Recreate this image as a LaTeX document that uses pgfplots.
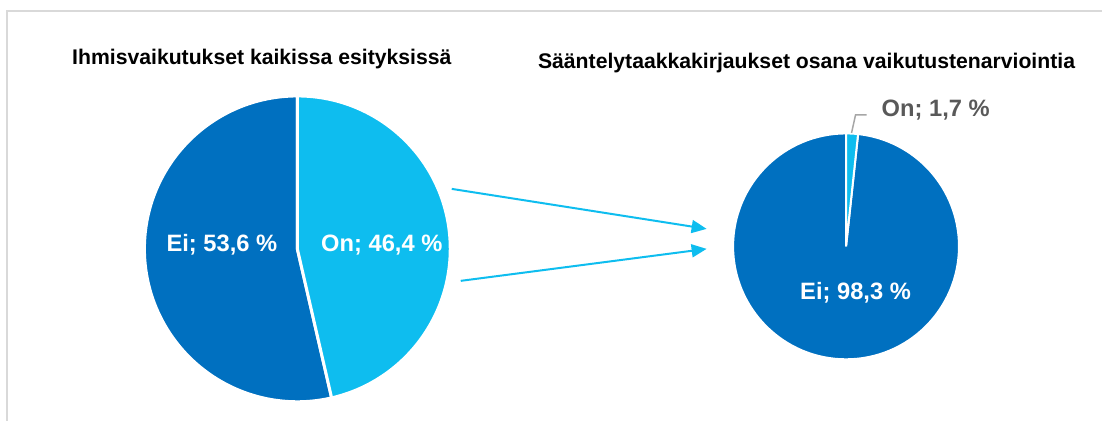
\documentclass[border=0pt]{standalone}
\usepackage{pgfplots}
\pgfplotsset{compat=1.18}
\usepackage{fontspec}
\setmainfont{Liberation Sans}
\usetikzlibrary{arrows.meta}
\definecolor{dblue}{RGB}{0,112,192}
\definecolor{lblue}{RGB}{14,189,239}
\definecolor{lbltext}{RGB}{89,89,89}
\definecolor{frame}{RGB}{217,217,217}
\definecolor{leader}{RGB}{166,166,166}
% data (percent)
\def\OnA{46.4}\def\EiA{53.6}
\def\OnB{1.7}\def\EiB{98.3}
\begin{document}
\begin{tikzpicture}
\path (0bp,0bp) rectangle (1103bp,421bp);
\draw[frame, line width=1.2bp] (7bp,0bp) -- (7bp,410bp) -- (1103bp,410bp);
% pie 1
\begin{axis}[at={(297.5bp,172bp)}, anchor=center, hide axis, scale only axis,
  width=306bp, height=306bp, xmin=-1, xmax=1, ymin=-1, ymax=1,
  enlargelimits=false, clip=false]
\addplot[fill=dblue, draw=white, line width=3bp] coordinates {(0,0) (0,1)}
  arc[start angle=90, delta angle=3.6*\EiA, radius=153bp] -- cycle;
\addplot[fill=lblue, draw=white, line width=3bp] coordinates {(0,0) (0,1)}
  arc[start angle=90, delta angle=-3.6*\OnA, radius=153bp] -- cycle;
\end{axis}
% pie 2
\begin{axis}[at={(846.5bp,174.5bp)}, anchor=center, hide axis, scale only axis,
  width=226bp, height=226bp, xmin=-1, xmax=1, ymin=-1, ymax=1,
  enlargelimits=false, clip=false]
\addplot[fill=dblue, draw=white, line width=2bp] coordinates {(0,0) (0,1)}
  arc[start angle=90, delta angle=3.6*\EiB, radius=113bp] -- cycle;
\addplot[fill=lblue, draw=white, line width=2bp] coordinates {(0,0) (0,1)}
  arc[start angle=90, delta angle=-3.6*\OnB, radius=113bp] -- cycle;
\end{axis}
% titles
\node[font=\fontsize{21.2bp}{25bp}\selectfont\bfseries] at (262bp,362bp) {Ihmisvaikutukset kaikissa esityksissä};
\node[font=\fontsize{21.2bp}{25bp}\selectfont\bfseries] at (807bp,358bp) {Sääntelytaakkakirjaukset osana vaikutustenarviointia};
% labels
\node[white, font=\fontsize{23.7bp}{28bp}\selectfont\bfseries] at (222bp,176bp) {Ei; 53,6 \%};
\node[white, font=\fontsize{23.7bp}{28bp}\selectfont\bfseries] at (382bp,176bp) {On; 46,4 \%};
\node[white, font=\fontsize{23.7bp}{28bp}\selectfont\bfseries] at (856bp,128bp) {Ei; 98,3 \%};
\node[lbltext, anchor=west, inner sep=0pt, font=\fontsize{23.7bp}{28bp}\selectfont\bfseries] at (882bp,311bp) {On; 1,7 \%};
\draw[leader, line width=1.5bp] (852bp,288bp) -- (856bp,306bp) -- (867bp,306bp);
% arrows
\draw[lblue, line width=2bp, -{Triangle[length=15bp,width=13bp]}] (452bp,232bp) -- (707bp,192bp);
\draw[lblue, line width=2bp, -{Triangle[length=15bp,width=13bp]}] (461bp,140bp) -- (707bp,172bp);
\end{tikzpicture}
\end{document}
